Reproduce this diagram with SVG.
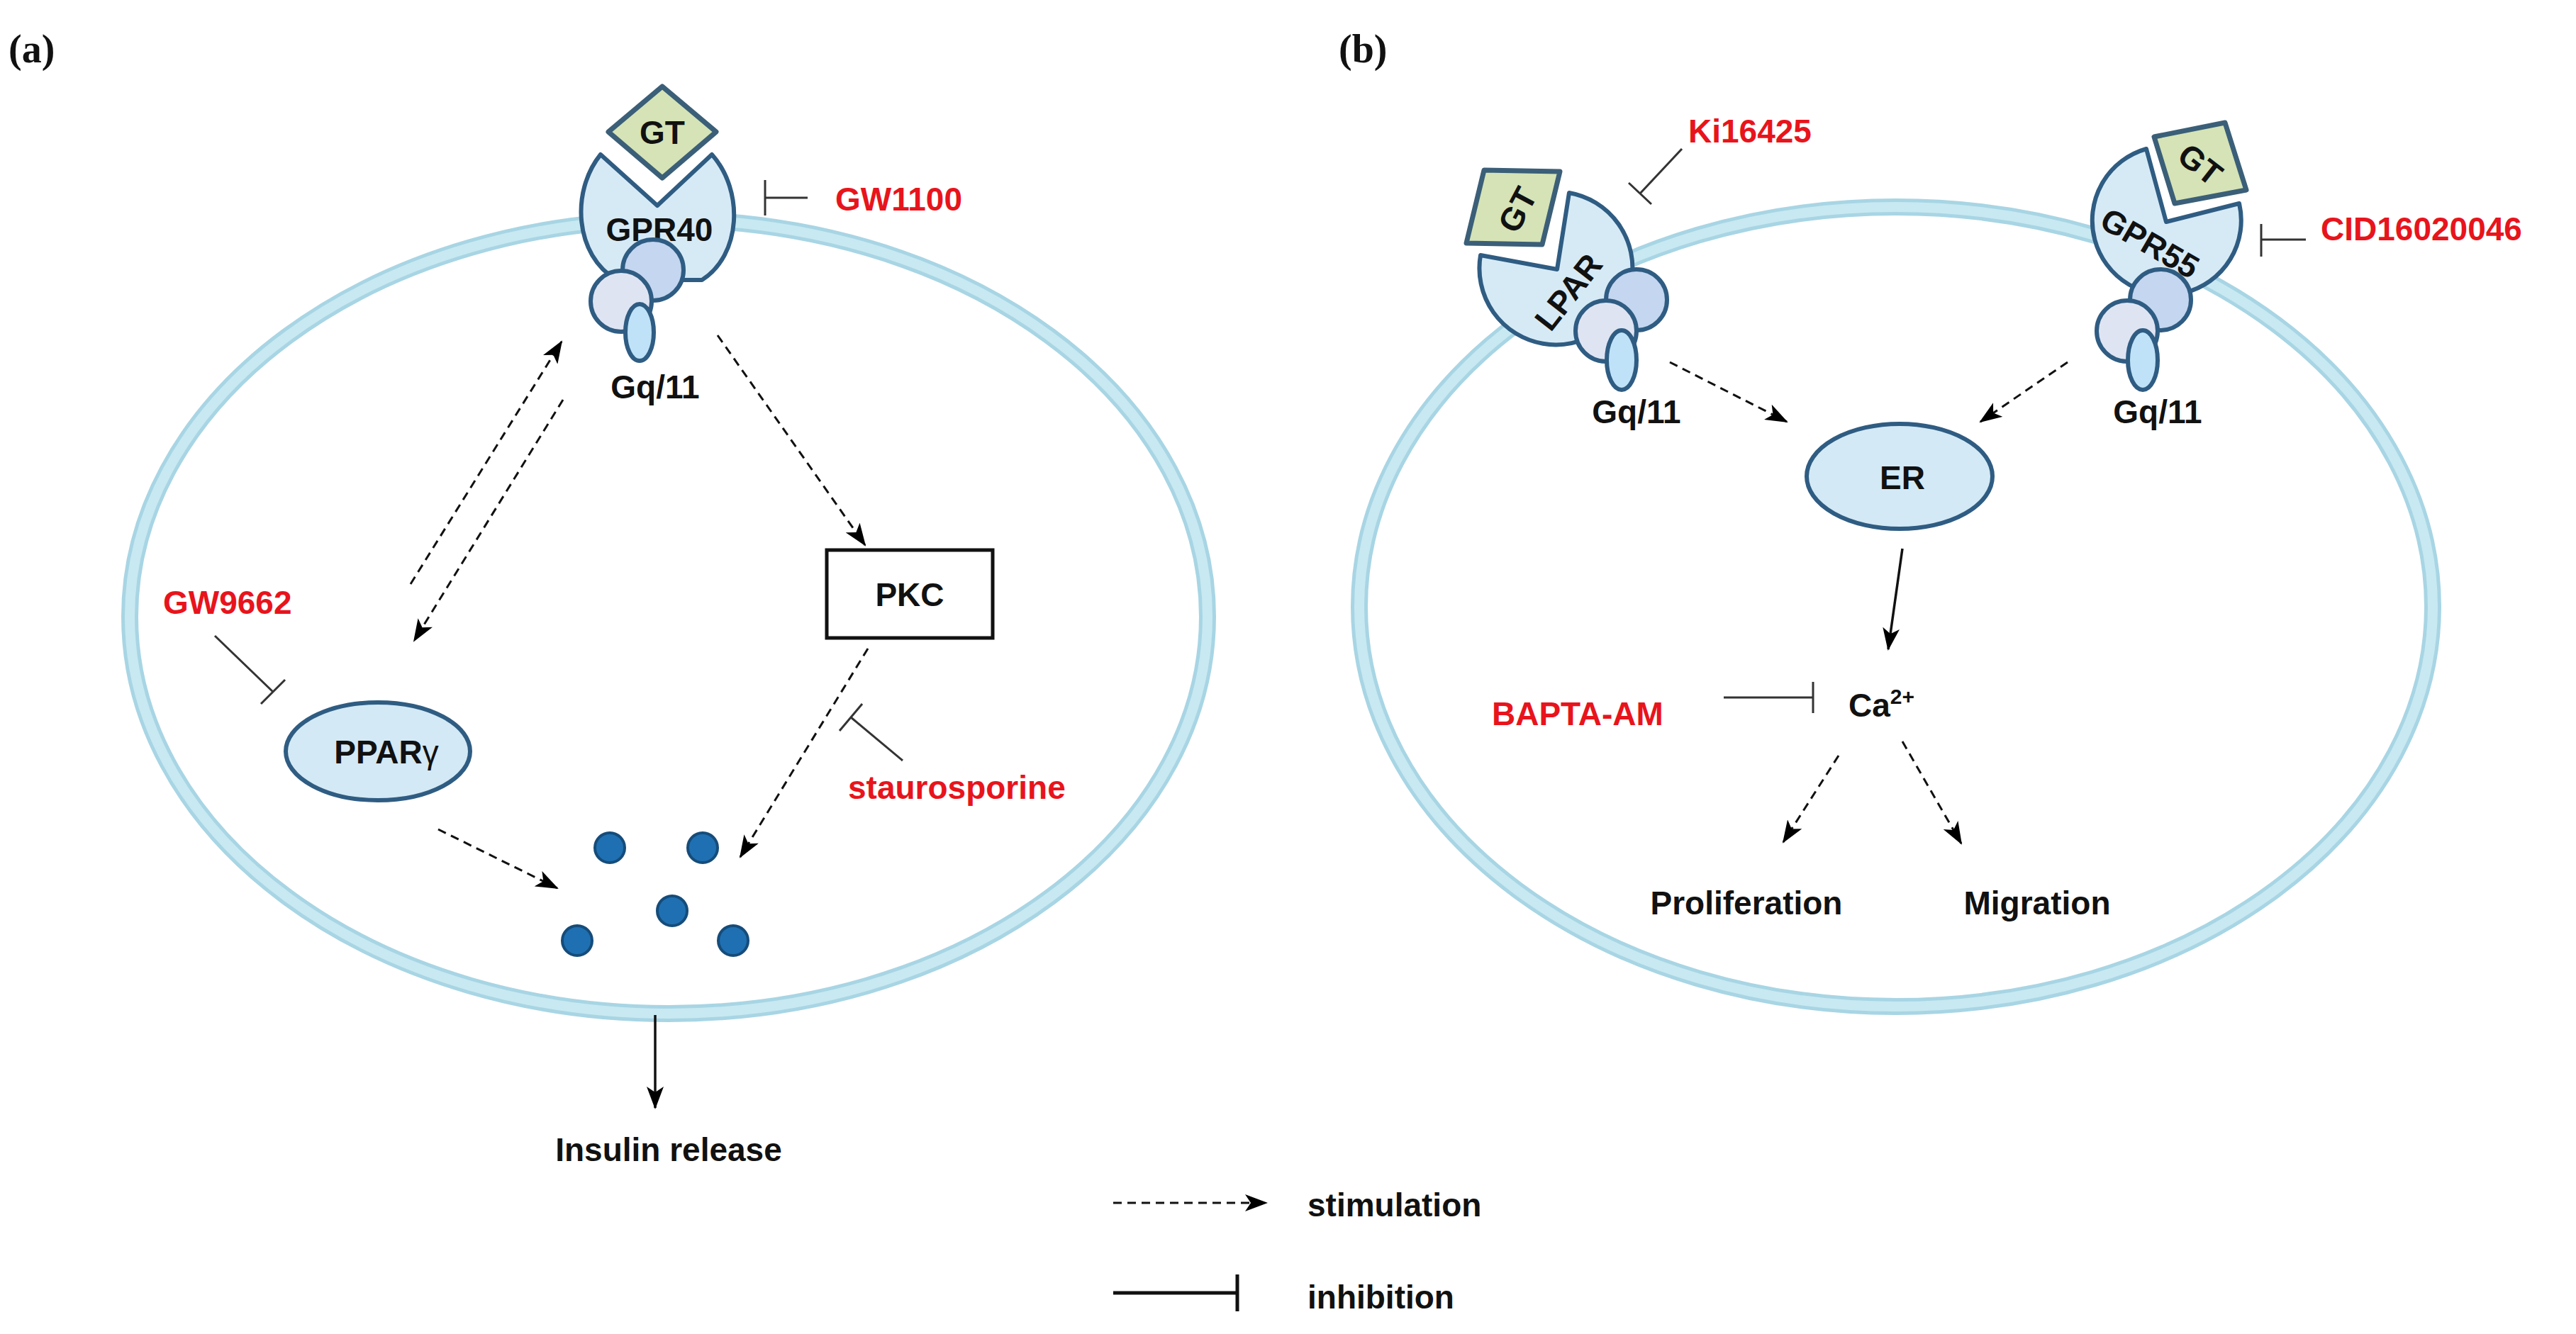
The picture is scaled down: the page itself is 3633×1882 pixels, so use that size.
<svg xmlns="http://www.w3.org/2000/svg" width="3633" height="1882" viewBox="0 0 3633 1882">
<defs>
<marker id="ah" markerUnits="userSpaceOnUse" markerWidth="34" markerHeight="24" refX="30" refY="12" orient="auto"><path d="M0,0 L32,12 L0,24 L8,12 Z" fill="#000"/></marker>
</defs>
<style>
.mem{fill:none;stroke:#a8d5e4;stroke-width:24}
.mem2{fill:none;stroke:#c8e9f2;stroke-width:14}
.cup{fill:#d6eaf6;stroke:#2f5c82;stroke-width:6;stroke-linejoin:round}
.c1{fill:#c4d6f0;stroke:#2f5c82;stroke-width:6}
.c2{fill:#dfe4f3;stroke:#2f5c82;stroke-width:6}
.c3{fill:#bfe2f8;stroke:#2f5c82;stroke-width:6}
.gt{fill:#d5e3b6;stroke:#3b5f78;stroke-width:7;stroke-linejoin:round}
.t{font-family:"Liberation Sans",Arial,sans-serif;font-weight:bold;font-size:46px;fill:#111}
.r{font-family:"Liberation Sans",Arial,sans-serif;font-weight:bold;font-size:46px;fill:#e8141c}
.lab{font-family:"Liberation Serif","Times New Roman",serif;font-weight:bold;font-size:56px;fill:#111}
.d{stroke:#111;stroke-width:3;stroke-dasharray:12 8;fill:none;marker-end:url(#ah)}
.s{stroke:#111;stroke-width:3.5;fill:none;marker-end:url(#ah)}
.i{stroke:#333;stroke-width:3;fill:none}
.dot{fill:#1f70b2;stroke:#154c7a;stroke-width:4}
.org{fill:#d3e9f5;stroke:#2f5c82;stroke-width:6}
</style>
<rect width="3633" height="1882" fill="#fff"/>
<text class="lab" x="12" y="88">(a)</text>
<text class="lab" x="1888" y="88">(b)</text>

<g id="cell-a"><ellipse class="mem" cx="943" cy="870" rx="760" ry="560"/><ellipse class="mem2" cx="943" cy="870" rx="760" ry="560"/></g>
<g id="cell-b"><ellipse class="mem" cx="2674" cy="856" rx="757" ry="564"/><ellipse class="mem2" cx="2674" cy="856" rx="757" ry="564"/></g>

<g id="gpr40">
<path class="cup" d="M847,218 L927,290 L1004,218 C1050,270 1045,360 990,395 L870,395 C810,360 805,270 847,218 Z"/>
<polygon class="gt" points="858,186 934,122 1010,186 934,251"/>
<text class="t" x="934" y="203" text-anchor="middle" font-size="48">GT</text>
<text class="t" x="930" y="340" text-anchor="middle" font-size="48">GPR40</text>
<circle class="c1" cx="921" cy="381" r="43"/>
<circle class="c2" cx="876" cy="425" r="43"/>
<ellipse class="c3" cx="902" cy="469" rx="20" ry="40"/>
<text class="t" x="924" y="562" text-anchor="middle">Gq/11</text>
</g>
<g id="gw1100"><text class="r" x="1178" y="297">GW1100</text></g>
<g id="pkc"><rect x="1166" y="776" width="234" height="124" fill="#fff" stroke="#111" stroke-width="5"/><text class="t" x="1283" y="855" text-anchor="middle">PKC</text></g>
<g id="ppar"><ellipse class="org" cx="533" cy="1060" rx="130" ry="69"/><text class="t" x="545" y="1077" text-anchor="middle">PPAR<tspan font-weight="normal">γ</tspan></text></g>
<g id="gw9662"><text class="r" x="230" y="866">GW9662</text></g>
<g id="stauro"><text class="r" x="1196" y="1127">staurosporine</text></g>
<g id="granules">
<circle class="dot" cx="860" cy="1196" r="21"/><circle class="dot" cx="991" cy="1196" r="21"/><circle class="dot" cx="948" cy="1285" r="21"/><circle class="dot" cx="814" cy="1327" r="21"/><circle class="dot" cx="1034" cy="1327" r="21"/>
</g>
<g id="insulin"><text class="t" x="943" y="1638" text-anchor="middle">Insulin release</text></g>

<g id="lpar">
<path class="cup" d="M2213,272 A108,108 0 1 1 2088,360 L2196,380 Z"/>
<polygon class="gt" points="2093,240 2200,242 2175,345 2068,343"/>
<text class="t" transform="translate(2140,296) rotate(-62)" x="0" y="16" text-anchor="middle">GT</text>
<text class="t" transform="translate(2212,412) rotate(-52)" x="0" y="16" text-anchor="middle">LPAR</text>
<circle class="c1" cx="2308" cy="423" r="43"/>
<circle class="c2" cx="2265" cy="467" r="43"/>
<ellipse class="c3" cx="2287" cy="508" rx="21" ry="42"/>
<text class="t" x="2308" y="597" text-anchor="middle">Gq/11</text>
</g>
<g id="ki16425"><text class="r" x="2381" y="201">Ki16425</text></g>
<g id="gpr55">
<path class="cup" d="M3027,210 A105,105 0 1 0 3158,287 L3055,313 Z"/>
<polygon class="gt" points="3038,193 3138,173 3168,268 3067,287"/>
<text class="t" transform="translate(3103,232) rotate(38)" x="0" y="16" text-anchor="middle">GT</text>
<text class="t" transform="translate(3032,343) rotate(30)" x="0" y="16" text-anchor="middle">GPR55</text>
<circle class="c1" cx="3047" cy="423" r="43"/>
<circle class="c2" cx="3000" cy="467" r="43"/>
<ellipse class="c3" cx="3022" cy="508" rx="21" ry="42"/>
<text class="t" x="3043" y="597" text-anchor="middle">Gq/11</text>
</g>
<g id="cid"><text class="r" x="3273" y="339">CID16020046</text></g>
<g id="er"><ellipse class="org" cx="2679" cy="672" rx="131" ry="74"/><text class="t" x="2683" y="690" text-anchor="middle">ER</text></g>
<g id="ca"><text class="t" x="2607" y="1011" font-weight="normal">Ca<tspan font-size="30" dy="-18">2+</tspan></text></g>
<g id="bapta"><text class="r" x="2104" y="1023">BAPTA-AM</text></g>
<g id="prolif"><text class="t" x="2463" y="1290" text-anchor="middle">Proliferation</text></g>
<g id="migr"><text class="t" x="2873" y="1290" text-anchor="middle">Migration</text></g>
<g id="legend"><text class="t" x="1844" y="1716">stimulation</text><text class="t" x="1844" y="1846">inhibition</text></g>

<g id="connectors">
<line class="i" x1="1139" y1="279" x2="1079" y2="279"/><line class="i" x1="1079" y1="254" x2="1079" y2="304"/>
<line class="d" x1="579" y1="824" x2="792" y2="482"/>
<line class="d" x1="794" y1="564" x2="584" y2="904"/>
<line class="d" x1="1012" y1="473" x2="1220" y2="769"/>
<line class="i" x1="303" y1="897" x2="385" y2="976" stroke="#555"/><line class="i" x1="368" y1="993" x2="402" y2="959"/>
<line class="d" x1="1224" y1="915" x2="1044" y2="1209"/>
<line class="i" x1="1273" y1="1073" x2="1200" y2="1012" stroke="#444"/><line class="i" x1="1216" y1="993" x2="1184" y2="1031"/>
<line class="d" x1="618" y1="1170" x2="786" y2="1253"/>
<line class="s" x1="924" y1="1432" x2="924" y2="1563"/>
<line class="i" x1="2372" y1="210" x2="2313" y2="273" stroke="#444"/><line class="i" x1="2297" y1="258" x2="2329" y2="288"/>
<line class="i" x1="3252" y1="338" x2="3189" y2="338" stroke="#111"/><line class="i" x1="3189" y1="316" x2="3189" y2="362" stroke="#111"/>
<line class="d" x1="2355" y1="511" x2="2520" y2="595"/>
<line class="d" x1="2916" y1="511" x2="2793" y2="595"/>
<line class="s" x1="2683" y1="774" x2="2663" y2="916"/>
<line class="i" x1="2431" y1="984" x2="2557" y2="984" stroke="#111"/><line class="i" x1="2557" y1="962" x2="2557" y2="1006" stroke="#111"/>
<line class="d" x1="2593" y1="1066" x2="2515" y2="1188"/>
<line class="d" x1="2683" y1="1046" x2="2766" y2="1190"/>
<line class="d" x1="1570" y1="1697" x2="1786" y2="1697"/>
<line x1="1570" y1="1824" x2="1745" y2="1824" stroke="#111" stroke-width="5"/><line x1="1745" y1="1798" x2="1745" y2="1850" stroke="#111" stroke-width="5"/>
</g>
</svg>
